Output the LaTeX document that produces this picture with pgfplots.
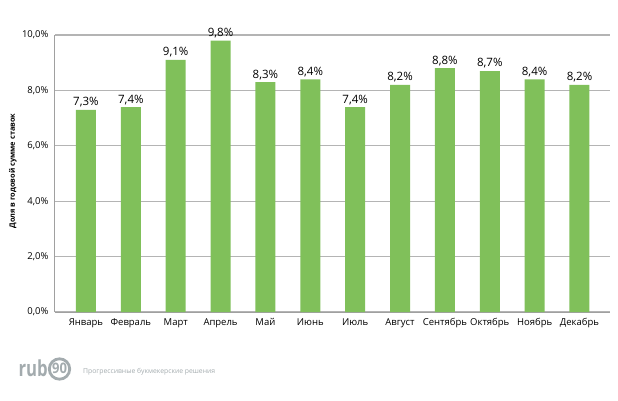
\documentclass[border=0pt]{standalone}
\usepackage{fontspec}
\setmainfont{Open Sans}
\setsansfont{Open Sans}
\usepackage{xcolor}
\usepackage{graphicx}
\usepackage{pgfplots}
\pgfplotsset{compat=1.18}
\definecolor{BAR}{HTML}{80C05A}
\definecolor{GRID}{HTML}{B4B4B4}
\definecolor{AX}{HTML}{A0A0A0}
\definecolor{LOGO}{HTML}{A3ABAE}

\begin{document}
\begin{tikzpicture}[x=1pt,y=1pt]
\path[use as bounding box] (0,0) rectangle (618,400);
\begin{axis}[
  at={(55pt,88pt)}, anchor=south west,
  scale only axis, width=555pt, height=277pt,
  ybar, bar width=20pt,
  xmin=-0.69, xmax=11.68, ymin=0, ymax=10,
  xtick=data,
  xticklabels={Январь,Февраль,Март,Апрель,Май,Июнь,Июль,Август,Сентябрь,Октябрь,Ноябрь,Декабрь},
  xticklabel style={font=\fontsize{9.5}{11}\selectfont, yshift=-3pt},
  major tick length=0pt,
  ytick={0,2,4,6,8,10},
  yticklabel={\pgfmathprintnumber[fixed,fixed zerofill,precision=1,use comma]{\tick}\%},
  yticklabel style={font=\fontsize{9.5}{11}\selectfont, xshift=-3pt},
  /pgf/number format/assume math mode=true,
  ylabel={Доля в годовой сумме ставок},
  every axis y label/.style={at={(-42pt,141pt)}, anchor=center, rotate=90,
    font=\fontsize{7.4}{8}\selectfont\bfseries},
  ymajorgrids, grid style={GRID, line width=1.2pt},
  axis x line*=bottom, axis y line*=left,
  axis line style={AX, line width=1pt},
  nodes near coords={\pgfmathprintnumber[fixed,fixed zerofill,precision=1,use comma]{\pgfplotspointmeta}\%},
  every node near coord/.append style={font=\fontsize{11.5}{13}\selectfont, text=black, yshift=-1pt},
  clip=false,
]
\addplot[fill=BAR, draw=none] coordinates {
  (0,7.3) (1,7.4) (2,9.1) (3,9.8) (4,8.3) (5,8.4)
  (6,7.4) (7,8.2) (8,8.8) (9,8.7) (10,8.4) (11,8.2)
};
\end{axis}
% logo
\node[anchor=base east, text=LOGO, font=\fontsize{22}{24}\selectfont\bfseries, inner sep=0] at (48,24) {\scalebox{0.76}[1]{rub}};
\draw[LOGO, line width=2.8pt] (59.5,31) circle (10.2);
\node[text=LOGO, font=\fontsize{14.5}{15}\selectfont\bfseries, inner sep=0] at (59.5,31.3) {\scalebox{0.9}[1]{90}};
\node[anchor=west, text=LOGO, font=\fontsize{6.8}{8}\selectfont, inner sep=0] at (83,28) {Прогрессивные букмекерские решения};
\end{tikzpicture}
\end{document}
